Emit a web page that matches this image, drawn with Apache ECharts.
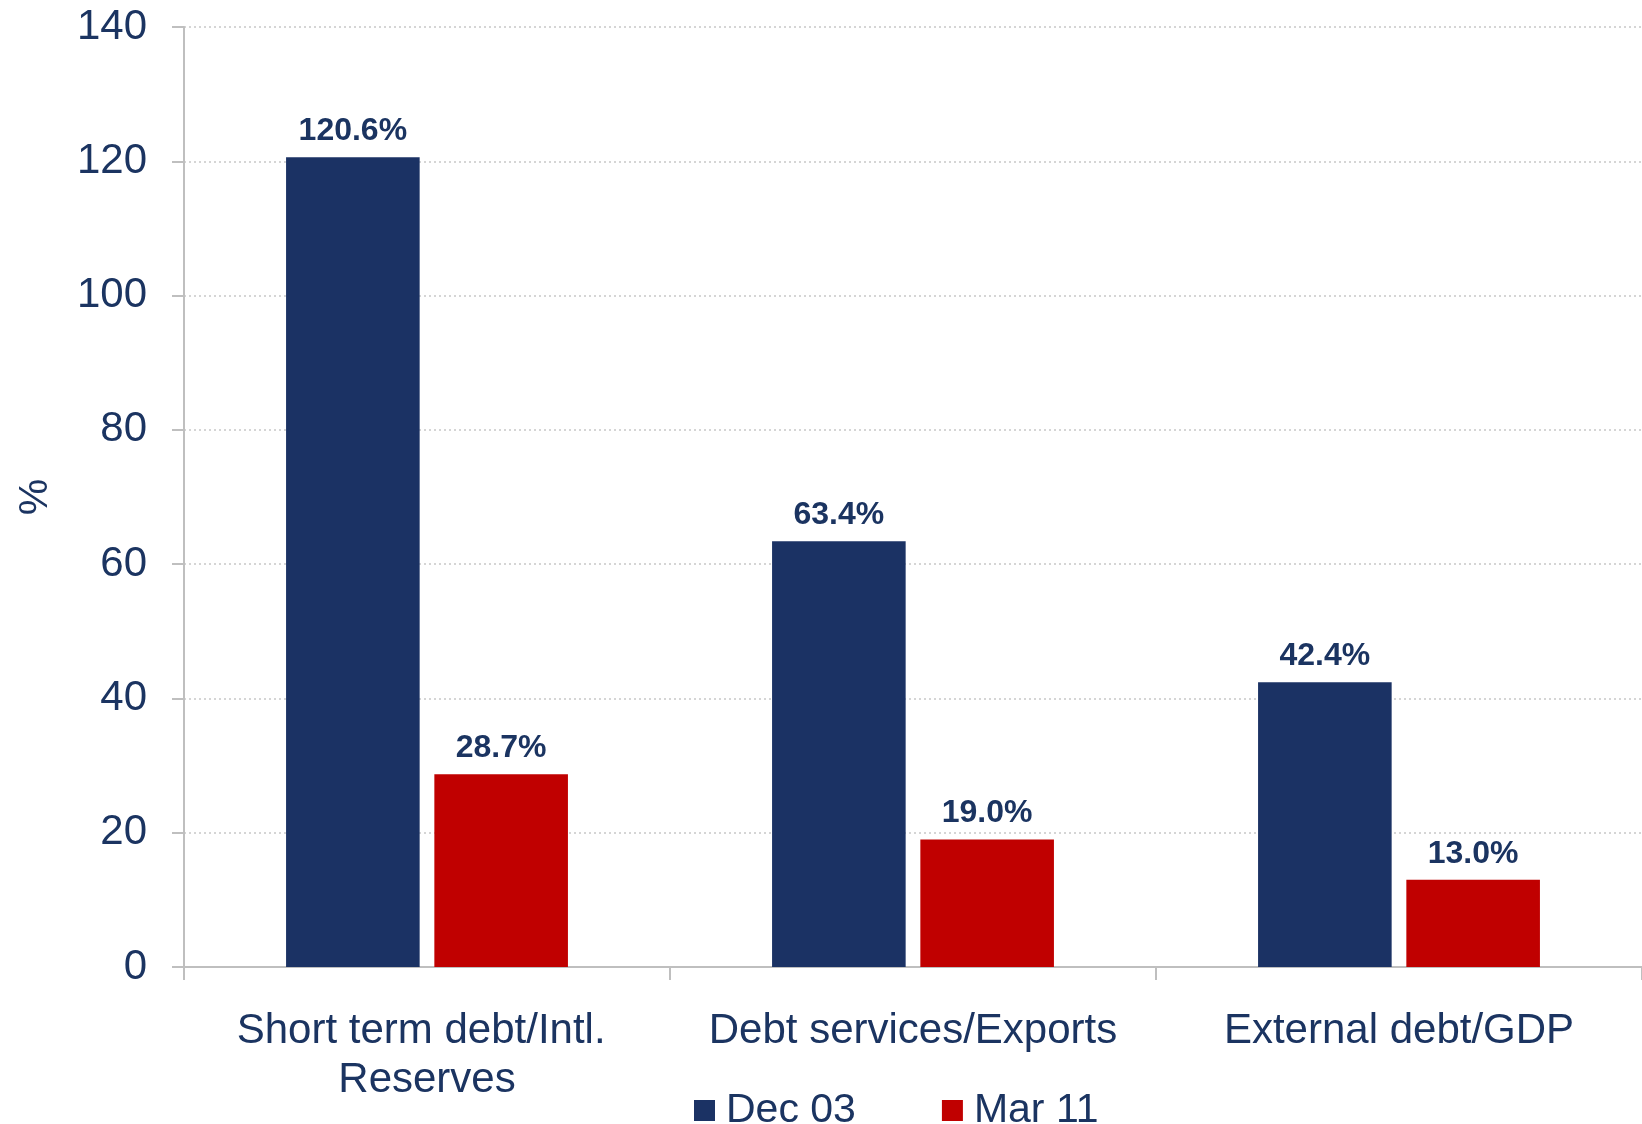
<!DOCTYPE html>
<html>
<head>
<meta charset="utf-8">
<script src="https://cdn.jsdelivr.net/npm/echarts@6/dist/echarts.min.js"></script>
<style>
  html, body { margin: 0; padding: 0; background: #ffffff; }
  #chart { width: 1642px; height: 1124px; }
</style>
</head>
<body>
<div id="chart"></div>
<script>
// Debt ratios, percent
const categories = ['Short term debt/Intl. Reserves', 'Debt services/Exports', 'External debt/GDP'];
const seriesNames = ['Dec 03', 'Mar 11'];
const dec03 = [120.6, 63.4, 42.4];
const mar11 = [28.7, 19.0, 13.0];

const FONT = '"Liberation Sans", Arial, sans-serif';
const TEXT = '#1b3461';
const NAVY = '#1b3264';
const RED = '#c00000';

const chart = echarts.init(document.getElementById('chart'));

const valueLabel = {
  show: true,
  position: 'top',
  distance: 10,
  color: TEXT,
  fontFamily: FONT,
  fontWeight: 'bold',
  fontSize: 32,
  formatter: p => p.value.toFixed(1) + '%'
};

chart.setOption({
  animation: false,
  backgroundColor: '#ffffff',
  textStyle: { fontFamily: FONT },
  grid: { left: 184, right: 0, top: 27, bottom: 157, containLabel: false, outerBoundsMode: 'none' },
  legend: {
    data: seriesNames,
    left: 689,
    top: 1085,
    itemWidth: 21,
    itemHeight: 21,
    itemGap: 86,
    icon: 'rect',
    textStyle: { color: TEXT, fontSize: 41, fontFamily: FONT, padding: [0, 0, 0, 6] }
  },
  xAxis: {
    type: 'category',
    data: categories,
    axisLine: { show: true, lineStyle: { color: '#bfbfbf', width: 2 } },
    axisTick: { show: true, length: 13, lineStyle: { color: '#bfbfbf', width: 2 } },
    axisLabel: {
      interval: 0,
      margin: 40,
      color: TEXT,
      fontSize: 42,
      fontFamily: FONT,
      lineHeight: 49,
      width: 470,
      overflow: 'break'
    },
    splitLine: { show: false }
  },
  yAxis: {
    type: 'value',
    min: 0,
    max: 140,
    interval: 20,
    name: '%',
    nameLocation: 'middle',
    nameRotate: 90,
    nameGap: 128,
    nameTextStyle: { color: TEXT, fontSize: 41, fontFamily: FONT },
    axisLine: { show: true, lineStyle: { color: '#bfbfbf', width: 2 } },
    axisTick: { show: true, length: 12, lineStyle: { color: '#bfbfbf', width: 2 } },
    axisLabel: { margin: 37, color: TEXT, fontSize: 42, fontFamily: FONT },
    splitLine: { show: true, lineStyle: { color: '#c8c8c8', type: [2, 3], width: 1.5 } }
  },
  series: [
    {
      name: seriesNames[0],
      type: 'bar',
      data: dec03,
      itemStyle: { color: NAVY },
      barGap: '11%',
      barCategoryGap: '42%',
      label: valueLabel
    },
    {
      name: seriesNames[1],
      type: 'bar',
      data: mar11,
      itemStyle: { color: RED },
      barGap: '11%',
      barCategoryGap: '42%',
      label: valueLabel
    }
  ]
});
</script>
</body>
</html>
